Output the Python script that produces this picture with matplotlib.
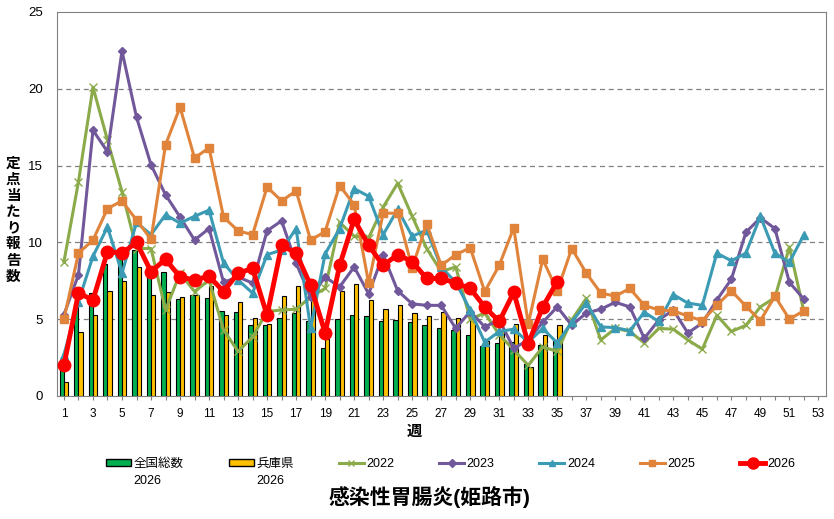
import matplotlib
matplotlib.use('agg')
import matplotlib.pyplot as plt
from matplotlib.lines import Line2D
from matplotlib.patches import Patch
import numpy as np

plt.rcParams['font.family'] = ['Liberation Sans', 'Noto Sans CJK JP', 'DejaVu Sans']

#週
weeks = list(range(1, 53))
bar_weeks = list(range(1, 36))

# 全国総数 2026 / 兵庫県 2026 (棒)
national_2026 = [1.9, 6.0, 6.7, 8.6, 9.2, 9.5, 8.1, 8.05, 6.3, 6.55, 6.35, 5.55, 5.5, 4.6, 4.6,
                 5.05, 5.4, 4.9, 3.1, 5.0, 5.3, 5.2, 4.9, 4.95, 4.8, 4.6, 4.45, 4.3, 4.0, 3.25,
                 3.45, 3.5, 2.1, 3.3, 3.65]
hyogo_2026 = [0.9, 4.15, 5.25, 6.85, 7.5, 8.4, 6.55, 6.75, 6.45, 6.6, 7.15, 5.3, 6.1, 5.1, 4.7,
              6.5, 7.15, 7.0, 3.7, 6.85, 7.3, 6.25, 5.65, 5.9, 5.4, 5.2, 5.5, 5.05, 5.0, 3.6,
              4.25, 4.7, 1.9, 4.0, 4.6]

# 姫路市 定点当たり報告数
y2022 = [8.75, 13.95, 20.1, 16.65, 13.3, 9.6, 9.6, 5.6, 8.0, 6.8, 7.55, 4.3, 2.9, 3.85, 5.5,
         5.6, 5.65, 6.45, 7.0, 11.3, 10.4, 10.3, 12.3, 13.85, 11.7, 9.6, 8.1, 8.4, 5.0, 5.4,
         4.0, 3.0, 2.0, 3.2, 2.9, 4.95, 6.35, 3.65, 4.4, 4.2, 3.45, 4.4, 4.35, 3.65, 3.05,
         5.25, 4.2, 4.6, 5.8, 6.4, 9.7, 5.5]
y2023 = [5.3, 7.9, 17.3, 15.9, 22.45, 18.15, 15.05, 13.1, 11.65, 10.15, 10.9, 7.4, 7.75, 7.35, 10.75,
         11.4, 8.65, 6.45, 7.75, 7.1, 8.4, 6.65, 9.2, 6.85, 6.0, 5.9, 5.9, 4.4, 5.5, 4.5,
         4.95, 3.1, 3.65, 4.8, 5.8, 4.6, 5.4, 5.65, 6.1, 5.8, 3.75, 4.95, 5.6, 4.1, 4.75,
         6.25, 7.6, 10.65, 11.6, 10.9, 7.4, 6.3]
y2024 = [2.7, 6.15, 9.1, 11.0, 8.0, 11.3, 10.5, 11.8, 11.25, 11.7, 12.1, 8.65, 7.55, 6.7, 9.2,
         9.5, 10.9, 4.4, 9.25, 10.9, 13.5, 13.0, 10.5, 12.15, 10.4, 10.8, 8.4, 7.4, 5.6, 3.5,
         4.2, 4.35, 3.5, 4.4, 3.45, 4.8, 6.05, 4.5, 4.45, 4.25, 5.45, 4.85, 6.6, 6.05, 5.9,
         9.3, 8.8, 9.3, 11.7, 9.3, 8.7, 10.5]
y2025 = [5.0, 9.3, 10.15, 12.2, 12.7, 11.45, 10.2, 16.35, 18.8, 15.5, 16.15, 11.65, 10.75, 10.5, 13.6,
         12.7, 13.35, 10.15, 10.7, 13.7, 12.45, 7.35, 11.9, 11.9, 8.35, 11.2, 8.5, 9.2, 9.65, 6.8,
         8.5, 10.95, 4.7, 8.9, 6.85, 9.6, 8.0, 6.7, 6.5, 7.0, 5.9, 5.6, 5.55, 5.2, 4.9,
         5.9, 6.85, 5.85, 4.9, 6.5, 5.0, 5.55]
y2026 = [2.0, 6.7, 6.25, 9.4, 9.3, 10.0, 8.1, 8.9, 7.75, 7.55, 7.8, 6.8, 8.0, 8.3, 5.25,
         9.8, 9.3, 7.2, 4.1, 8.5, 11.5, 9.8, 8.5, 9.2, 8.75, 7.65, 7.65, 7.35, 7.0, 5.8,
         4.85, 6.75, 3.4, 5.8, 7.45]

green_bar = '#00B050'
yellow_bar = '#FFC000'
c2022 = '#8BAA4A'
c2023 = '#71589A'
c2024 = '#3C9BB4'
c2025 = '#E0843C'
c2026 = '#FF0000'

fig = plt.figure(figsize=(8.34, 5.19), dpi=100)
ax = fig.add_axes([0.068, 0.237, 0.922, 0.740])

bx = np.array(bar_weeks)
ax.bar(bx - 0.15, national_2026, width=0.3, color=green_bar, edgecolor='black', linewidth=0.8, zorder=2)
ax.bar(bx + 0.15, hyogo_2026, width=0.3, color=yellow_bar, edgecolor='black', linewidth=0.8, zorder=2)

ax.plot(weeks, y2022, color=c2022, lw=2.2, marker='x', ms=6, mew=1.0, zorder=3)
ax.plot(weeks, y2023, color=c2023, lw=2.2, marker='D', ms=4.5, zorder=4)
ax.plot(weeks, y2024, color=c2024, lw=2.2, marker='^', ms=6, zorder=5)
ax.plot(weeks, y2025, color=c2025, lw=2.2, marker='s', ms=5.5, zorder=6)
ax.plot(bar_weeks, y2026, color=c2026, lw=3.5, marker='o', ms=9, zorder=7)

ax.set_xlim(0.5, 53.5)
ax.set_ylim(0, 25)
ax.set_yticks([0, 5, 10, 15, 20, 25])
ax.set_xticks(range(1, 54))
ax.set_xticklabels([str(w) if w % 2 == 1 else '' for w in range(1, 54)])
ax.tick_params(axis='x', length=3, color='#808080', labelsize=8.5, pad=6)
ax.tick_params(axis='y', length=0, labelsize=9.5, pad=10)
for s in ax.spines.values():
    s.set_color('#808080')
for v in [5, 10, 15, 20]:
    ax.axhline(v, color='#808080', lw=0.9, ls=(0, (4, 3)), zorder=1)

fig.text(0.016, 0.576, '定\n点\n当\nた\nり\n報\n告\n数', ha='center', va='center',
         fontsize=10.5, fontweight='bold', linespacing=1.2)
fig.text(0.497, 0.168, '週', ha='center', va='center', fontsize=11, fontweight='bold')
fig.text(0.515, 0.042, '感染性胃腸炎(姫路市)', ha='center', va='center', fontsize=15, fontweight='bold')

handles = [
    Patch(facecolor=green_bar, edgecolor='black'),
    Patch(facecolor=yellow_bar, edgecolor='black'),
    Line2D([], [], color=c2022, lw=2.2, marker='x', ms=5),
    Line2D([], [], color=c2023, lw=2.2, marker='D', ms=4),
    Line2D([], [], color=c2024, lw=2.2, marker='^', ms=5),
    Line2D([], [], color=c2025, lw=2.2, marker='s', ms=5),
    Line2D([], [], color=c2026, lw=3.5, marker='o', ms=8),
]
labels = ['全国総数', '兵庫県', '2022', '2023', '2024', '2025', '2026']
leg = fig.legend(handles, labels, loc='center left', bbox_to_anchor=(106 / 834, 1 - 464 / 519),
                 ncol=7, frameon=False, fontsize=9, handlelength=2.0, handleheight=0.5,
                 handletextpad=0.2, columnspacing=3.6, borderpad=0, borderaxespad=0)

# 棒の凡例の2行目(2026)
fig.canvas.draw()
inv = fig.transFigure.inverted()
for t in leg.get_texts()[:2]:
    bb = t.get_window_extent()
    x0, y0 = inv.transform((bb.x0, bb.y0))
    fig.text(x0, y0 - 0.01, '2026', ha='left', va='top', fontsize=9)

fig.savefig('out.png', dpi=100)
